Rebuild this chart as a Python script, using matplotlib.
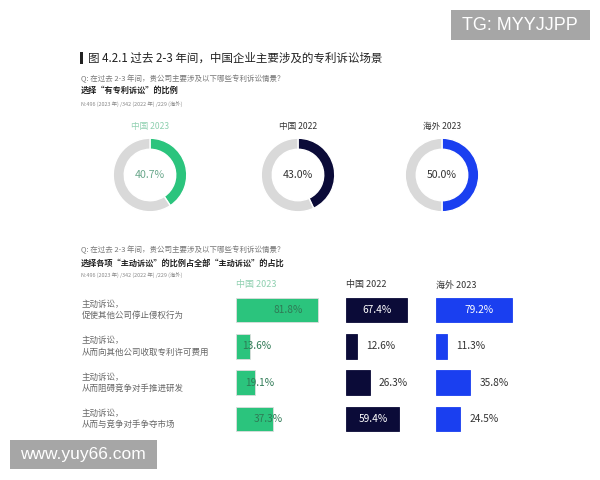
import matplotlib
matplotlib.use("Agg")
import matplotlib.pyplot as plt
from matplotlib.patches import Rectangle

plt.rcParams['font.family'] = ['Noto Sans CJK SC', 'DejaVu Sans']

W, H = 600, 480

title = "图 4.2.1 过去 2-3 年间，中国企业主要涉及的专利诉讼场景"
question = "Q: 在过去 2-3 年间，贵公司主要涉及以下哪些专利诉讼情景？"
sub1 = "选择“有专利诉讼”的比例"
sub2 = "选择各项“主动诉讼”的比例占全部“主动诉讼”的占比"
n_note = "N:496 (2023 年) /342 (2022 年) /229 (海外)"

groups = ["中国 2023", "中国 2022", "海外 2023"]
donut_values = [40.7, 43.0, 50.0]

categories = [
    "主动诉讼，\n促使其他公司停止侵权行为",
    "主动诉讼，\n从而向其他公司收取专利许可费用",
    "主动诉讼，\n从而阻碍竞争对手推进研发",
    "主动诉讼，\n从而与竞争对手争夺市场",
]
china_2023 = [81.8, 13.6, 19.1, 37.3]
china_2022 = [67.4, 12.6, 26.3, 59.4]
overseas_2023 = [79.2, 11.3, 35.8, 24.5]

colors = ["#2bc47d", "#0b0b38", "#1a3ff0"]
header_colors = ["#8fd0b0", "#333333", "#333333"]
center_colors = ["#6aa88c", "#333333", "#333333"]
ring_gray = "#d9d9d9"

fig = plt.figure(figsize=(W / 100, H / 100), dpi=100)
fig.patch.set_facecolor("white")


def fx(px):
    return px / W


def fy(py):
    return 1 - py / H


def add_ax(x0, y0, w, h):
    return fig.add_axes([fx(x0), fy(y0 + h), w / W, h / H])


# Header texts
fig.patches.append(Rectangle((fx(80), fy(64)), 2.5 / W, 12 / H, transform=fig.transFigure,
                             facecolor="#222222", edgecolor="none"))
fig.text(fx(88), fy(58), title, fontsize=8.3, color="#222222", va="center", ha="left",
         fontweight="medium")
fig.text(fx(81), fy(79), question, fontsize=5.4, color="#777777", va="center", ha="left",
         style="italic")
fig.text(fx(81), fy(90), sub1, fontsize=5.9, color="#222222", va="center", ha="left",
         fontweight="bold")
fig.text(fx(81), fy(104), n_note, fontsize=3.9, color="#888888", va="center", ha="left")

# Donuts
donut_cx = [150, 298, 442]
donut_cy = 175
r = 37.5
for i, (g, v) in enumerate(zip(groups, donut_values)):
    fig.text(fx(donut_cx[i]), fy(126), g, fontsize=6.2, color=header_colors[i],
             ha="center", va="center")
    ax = add_ax(donut_cx[i] - r, donut_cy - r, 2 * r, 2 * r)
    ax.pie([v, 100 - v], colors=[colors[i], ring_gray], startangle=90,
           counterclock=False, radius=1,
           wedgeprops=dict(width=0.3, edgecolor="white", linewidth=1.0))
    ax.set_xlim(-1.02, 1.02)
    ax.set_ylim(-1.02, 1.02)
    ax.set_aspect("equal")
    ax.text(0, 0, f"{v:.1f}%", fontsize=7.6, color=center_colors[i],
            ha="center", va="center")

# Bar section header
fig.text(fx(81), fy(250), question, fontsize=5.4, color="#777777", va="center", ha="left",
         style="italic")
fig.text(fx(81), fy(263), sub2, fontsize=5.9, color="#222222", va="center", ha="left",
         fontweight="bold")
fig.text(fx(81), fy(275), n_note, fontsize=3.9, color="#888888", va="center", ha="left")

bar_x0 = [236, 346, 436]
bar_w = [100, 90, 96]
top, height = 292, 145
series = [china_2023, china_2022, overseas_2023]
ypos = list(range(len(categories)))

for k in range(3):
    fig.text(fx(bar_x0[k]), fy(285), groups[k], fontsize=6.5, color=header_colors[k],
             ha="left", va="center")
    ax = add_ax(bar_x0[k], top, bar_w[k], height)
    ax.barh(ypos, series[k], height=0.67, color=colors[k],
            edgecolor="#dddddd" if k == 0 else colors[k], linewidth=0.6)
    ax.set_xlim(0, 100)
    ax.set_ylim(len(categories) - 0.5, -0.5)
    ax.axis("off")
    for j, v in enumerate(series[k]):
        lab = f"{v:.1f}%"
        if k == 0:
            ax.text(v * 0.45 + 15, j, lab, fontsize=7.3, color="#2f7a55",
                    ha="center", va="center")
        elif v > 50:
            ax.text(v / 2 + (5 if k == 2 else 1), j, lab, fontsize=7.3, color="white",
                    ha="center", va="center")
        else:
            ax.text(v + 10, j, lab, fontsize=7.3, color="#333333",
                    ha="left", va="center")

# Category labels
for j, c in enumerate(categories):
    yc = top + (j + 0.5) * height / len(categories)
    fig.text(fx(82), fy(yc), c, fontsize=6.1, color="#666666", ha="left", va="center",
             linespacing=1.3)

# Watermarks
fig.patches.append(Rectangle((fx(451), fy(40)), 139 / W, 30 / H, transform=fig.transFigure,
                             facecolor="#a6a6a6", edgecolor="none", zorder=5))
fig.text(fx(520), fy(25.5), "TG: MYYJJPP", fontsize=13, color="white", ha="center",
         va="center", family="Liberation Sans", zorder=6)
fig.patches.append(Rectangle((fx(10), fy(469)), 147 / W, 29 / H, transform=fig.transFigure,
                             facecolor="#a6a6a6", edgecolor="none", zorder=5))
fig.text(fx(83), fy(455), "www.yuy66.com", fontsize=12.5, color="white", ha="center",
         va="center", family="Liberation Sans", zorder=6)

fig.savefig("out.png", dpi=100, facecolor="white")
